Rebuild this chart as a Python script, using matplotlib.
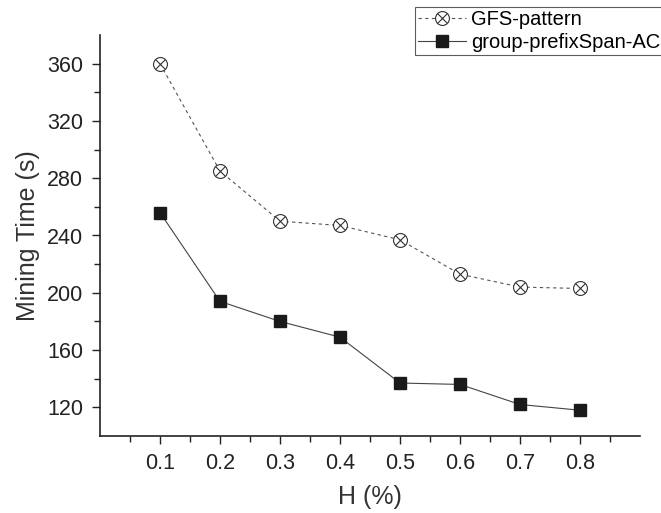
import numpy as np
import matplotlib.pyplot as plt
from matplotlib.legend_handler import HandlerTuple

plt.rcParams['font.family'] = ['Liberation Sans', 'DejaVu Sans']

# data
h = [0.1, 0.2, 0.3, 0.4, 0.5, 0.6, 0.7, 0.8]
gfs = [360, 285, 250, 247, 237, 213, 204, 203]
group = [256, 194, 180, 169, 137, 136, 122, 118]

fig = plt.figure(figsize=(6.61, 5.13), dpi=100)
ax = fig.add_axes([100 / 661, 1 - 436 / 513, 540 / 661, (436 - 35) / 513])

l1, = ax.plot(h, gfs, linestyle=(0, (3, 3)), color='#555555', linewidth=0.8,
              marker='o', markersize=10, markerfacecolor='white',
              markeredgecolor='#333333', markeredgewidth=0.8)
m1, = ax.plot(h, gfs, linestyle='none', marker='x', markersize=7,
              markeredgecolor='#333333', markeredgewidth=0.8)
l2, = ax.plot(h, group, linestyle='-', color='#444444', linewidth=0.8,
              marker='s', markersize=9, markerfacecolor='#1a1a1a',
              markeredgecolor='#1a1a1a')

ax.set_xlim(0, 0.9)
ax.set_ylim(100, 380)
ax.set_xticks(h)
ax.set_xticklabels([str(v) for v in h])
ax.set_xticks(np.arange(0.05, 0.9, 0.1), minor=True)
ax.set_yticks([120, 160, 200, 240, 280, 320, 360])
ax.set_yticks([140, 180, 220, 260, 300, 340], minor=True)

for s in ['top', 'right']:
    ax.spines[s].set_visible(False)
for s in ['left', 'bottom']:
    ax.spines[s].set_linewidth(1.2)
    ax.spines[s].set_color('#222222')

ax.tick_params(axis='both', which='major', direction='out', length=6, width=1,
               labelsize=15.5, colors='#222222', pad=6)
ax.tick_params(axis='both', which='minor', direction='out', length=4, width=1,
               colors='#222222')

ax.set_xlabel('H (%)', fontsize=18, color='#333333', labelpad=8)
ax.set_ylabel('Mining Time (s)', fontsize=18, color='#333333', labelpad=5)

leg = fig.legend([(l1, m1), l2], ['GFS-pattern', 'group-prefixSpan-AC'],
                 handler_map={tuple: HandlerTuple(ndivide=1)},
                 loc='upper left', bbox_to_anchor=(415 / 661, 1 - 7 / 513),
                 fontsize=14.5, frameon=True, fancybox=False, borderpad=0.15,
                 handlelength=2.4, handletextpad=0.25, labelspacing=0.2,
                 borderaxespad=0)
leg.get_frame().set_edgecolor('#333333')
leg.get_frame().set_linewidth(0.8)

fig.savefig('out.png', dpi=100)
